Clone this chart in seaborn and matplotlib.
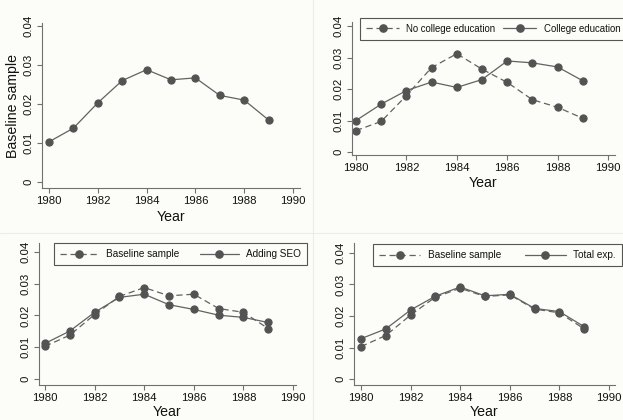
import matplotlib
matplotlib.use("Agg")
import matplotlib.pyplot as plt
from matplotlib.lines import Line2D
import seaborn as sns

sns.set_theme(style="white")
plt.rcParams["font.family"] = ["Liberation Sans", "DejaVu Sans"]

years = [1980, 1981, 1982, 1983, 1984, 1985, 1986, 1987, 1988, 1989]
baseline = [0.0103, 0.0138, 0.0203, 0.0260, 0.0288, 0.0262, 0.0267, 0.0222, 0.0210, 0.0159]
no_college = [0.0068, 0.0097, 0.0179, 0.0268, 0.0312, 0.0263, 0.0221, 0.0166, 0.0142, 0.0107]
college = [0.0100, 0.0152, 0.0195, 0.0222, 0.0205, 0.0230, 0.0289, 0.0283, 0.0270, 0.0226]
adding_seo = [0.0112, 0.0151, 0.0210, 0.0257, 0.0267, 0.0234, 0.0219, 0.0201, 0.0194, 0.0178]
total_exp = [0.0128, 0.0159, 0.0219, 0.0263, 0.0292, 0.0264, 0.0269, 0.0224, 0.0214, 0.0166]

x_ticks = [1980, 1982, 1984, 1986, 1988, 1990]
y_ticks = [0, 0.01, 0.02, 0.03, 0.04]
y_tick_labels = ["0", "0.01", "0.02", "0.03", "0.04"]

W, H = 623, 420
BG = "#fcfcf8"
LINE = "#626262"
MARK = "#535353"
AXC = "#707070"
TXT = "#111111"

fig = plt.figure(figsize=(W / 100, H / 100), dpi=100, facecolor=BG)


def make_axes(x0, x1, y0, y1, xlim, ylim):
    ax = fig.add_axes([x0 / W, 1 - y1 / H, (x1 - x0) / W, (y1 - y0) / H])
    ax.set_facecolor(BG)
    ax.set_xlim(*xlim)
    ax.set_ylim(*ylim)
    for s in ("top", "right"):
        ax.spines[s].set_visible(False)
    for s in ("left", "bottom"):
        ax.spines[s].set_color(AXC)
        ax.spines[s].set_linewidth(0.8)
    ax.set_xticks(x_ticks)
    ax.set_xticklabels([str(t) for t in x_ticks])
    ax.set_yticks(y_ticks)
    ax.set_yticklabels(y_tick_labels, rotation=90, va="center")
    ax.tick_params(axis="both", which="major", direction="out", length=3.5,
                   width=0.8, color=AXC, labelsize=8.2, pad=2.5,
                   labelcolor=TXT, left=True, bottom=True)
    ax.set_xlabel("")
    ax.set_ylabel("")
    return ax


def series(ax, vals, dashed, label=None):
    ls = (0, (5, 3)) if dashed else "-"
    sns.lineplot(x=years, y=vals, ax=ax, color=LINE, linewidth=0.9,
                 linestyle=ls, marker="o", markersize=5.2,
                 markerfacecolor=MARK, markeredgecolor=MARK,
                 label=label, legend=False, clip_on=False)


def add_legend(ax, bx0, bx1, by0, by1, hl, fs=6.9):
    handles = [
        Line2D([], [], color=LINE, lw=0.9, linestyle=(0, (5, 3)), marker="o",
               markersize=5.2, markerfacecolor=MARK, markeredgecolor=MARK),
        Line2D([], [], color=LINE, lw=0.9, linestyle="-", marker="o",
               markersize=5.2, markerfacecolor=MARK, markeredgecolor=MARK),
    ]
    labels = [l.get_label() for l in ax.get_lines()[:2]]
    leg = ax.legend(handles, labels, ncol=2, mode="expand",
                    loc="upper left",
                    bbox_to_anchor=(bx0 / W, 1 - by1 / H, (bx1 - bx0) / W, (by1 - by0) / H),
                    bbox_transform=fig.transFigure, borderaxespad=0,
                    fancybox=False, frameon=True, fontsize=fs,
                    handlelength=hl, handletextpad=0.75, borderpad=0.6,
                    columnspacing=0.7)
    frame = leg.get_frame()
    frame.set_edgecolor("#555555")
    frame.set_linewidth(0.8)
    frame.set_facecolor(BG)
    frame.set_alpha(1)
    for t in leg.get_texts():
        t.set_color(TXT)
    return leg


# Top left: baseline sample
ax1 = make_axes(42, 300, 23, 188, (1979.713, 1990.287), (-0.00154, 0.04077))
series(ax1, baseline, dashed=False)
ax1.set_xlabel("Year", fontsize=10.2, labelpad=3, color=TXT)
ax1.set_ylabel("Baseline sample", fontsize=10.2, labelpad=3, color=TXT)

# Top right: by education
ax2 = make_axes(352, 615, 22, 155, (1979.842, 1990.277), (-0.00095, 0.04127))
series(ax2, no_college, dashed=True, label="No college education")
series(ax2, college, dashed=False, label="College education")
ax2.set_xlabel("Year", fontsize=10.2, labelpad=2, color=TXT)
add_legend(ax2, 360, 626, 18, 41, 3.5)

# Bottom left: adding SEO
ax3 = make_axes(39, 296, 243, 385, (1979.758, 1990.121), (-0.00189, 0.04283))
series(ax3, baseline, dashed=True, label="Baseline sample")
series(ax3, adding_seo, dashed=False, label="Adding SEO")
ax3.set_xlabel("Year", fontsize=10.2, labelpad=1.5, color=TXT)
add_legend(ax3, 54, 307, 243, 268, 3.9, fs=7.2)

# Bottom right: total experience
ax4 = make_axes(354, 615, 243, 385, (1979.718, 1990.242), (-0.0019, 0.04317))
series(ax4, baseline, dashed=True, label="Baseline sample")
series(ax4, total_exp, dashed=False, label="Total exp.")
ax4.set_xlabel("Year", fontsize=10.2, labelpad=1.5, color=TXT)
add_legend(ax4, 373, 622, 244, 266, 4.1, fs=7.2)

# faint panel separators
fig.add_artist(Line2D([312.5 / W, 312.5 / W], [0, 1], color="#ececE6", lw=0.8))
fig.add_artist(Line2D([0, 1], [1 - 233 / H, 1 - 233 / H], color="#ececE6", lw=0.8))

fig.savefig("out.png", dpi=100, facecolor=BG)
